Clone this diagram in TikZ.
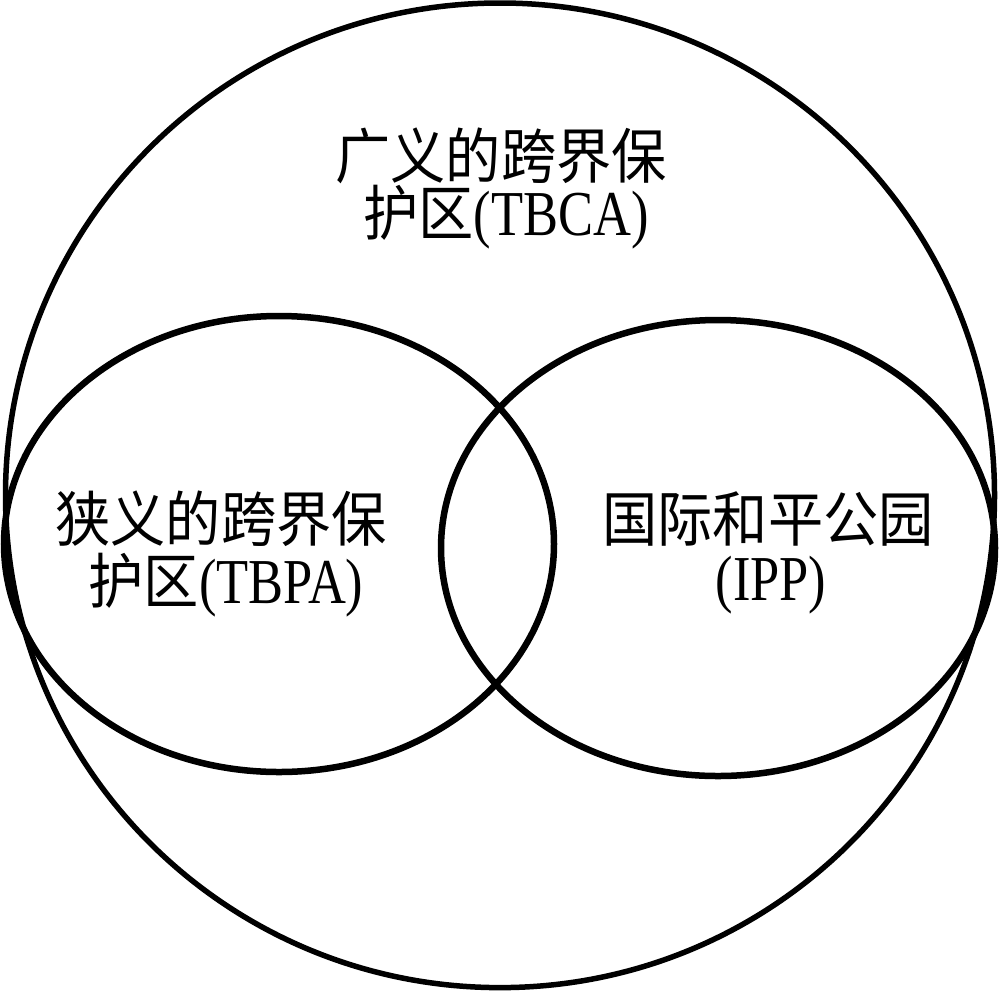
\documentclass[tikz,border=0pt]{standalone}
\usepackage{fontspec}
\setmainfont{Liberation Serif}[FakeStretch=0.82]
\newfontfamily\cjk{Noto Sans CJK SC}[FakeStretch=0.92]
\begin{document}
\begin{tikzpicture}[x=1pt,y=-1pt,
  outer/.style={draw=black,line width=5.5pt},
  inner/.style={draw=black,line width=6.5pt},
  lbl/.style={inner sep=0pt,anchor=base,font=\fontsize{64}{64}\selectfont}]
\useasboundingbox (0,0) rectangle (1000,991);
\draw[outer] (500,495.3) ellipse [x radius=494.5, y radius=492.3];
\draw[inner] (279,544) ellipse [x radius=275, y radius=228];
\draw[inner] (718,548) ellipse [x radius=277, y radius=228];
\node[lbl] (tbca1) at (501,178) {{\cjk\fontsize{60}{60}\selectfont 广义的跨界保}};
\node[lbl] (tbca2) at (506,235) {{\cjk\fontsize{60}{60}\selectfont 护区}(TBCA)};
\node[lbl] (tbpa1) at (221,541) {{\cjk\fontsize{60}{60}\selectfont 狭义的跨界保}};
\node[lbl] (tbpa2) at (226,603) {{\cjk\fontsize{60}{60}\selectfont 护区}(TBPA)};
\node[lbl] (ipp1) at (768,541) {{\cjk\fontsize{60}{60}\selectfont 国际和平公园}};
\node[lbl] (ipp2) at (771,600) {(IPP)};
\end{tikzpicture}
\end{document}
